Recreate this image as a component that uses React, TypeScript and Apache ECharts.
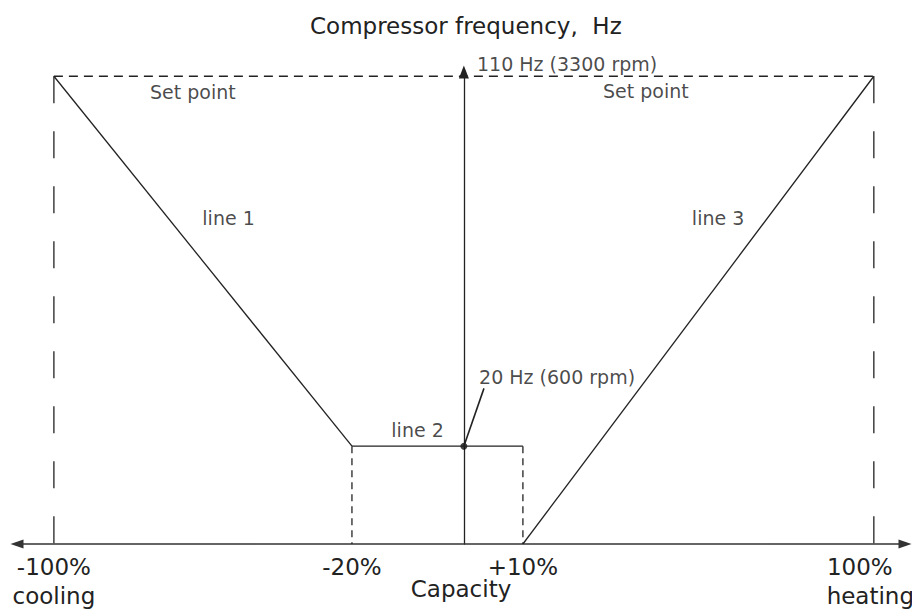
import React, { useEffect, useRef } from "react";
import * as echarts from "echarts";

// Capacity axis (schematic positions of the labelled capacity points)
const capacityTicks = [-100, -27.3, 14.4, 100];
const capacityLabels = ["-100%", "-20%", "+10%", "100%"];
const capacityModes = ["cooling", "", "", "heating"];

// Frequency levels (schematic)
const setPointLevel = 110;
const minLevel = 23;

const line1 = [[-100, 110], [-27.3, 23]];
const line2 = [[-27.3, 23], [14.4, 23]];
const line3 = [[14.4, 0], [100, 110]];
const setPointLine = [[-100, 110], [100, 110]];
const outerGuides = [
  [[-100, 110], [-100, 0]],
  [[100, 110], [100, 0]],
];
const innerGuides = [
  [[-27.3, 23], [-27.3, 0]],
  [[14.4, 23], [14.4, 0]],
];
const minPoint = [[0, 23]];
const leader = [[0, 23], [4.9, 36.6]];

const annotationTexts = ["Set point", "Set point", "line 1", "line 2", "line 3", "20 Hz (600 rpm)", "110 Hz (3300 rpm)"];
const annotationX = [-66.1, 44.4, -57.4, -11.3, 62.0, 3.7, 3.2];
const annotationY = [106.3, 106.5, 76.7, 26.8, 76.7, 39.3, 112.9];
const annotationLeft = [false, false, false, false, false, true, true];

const FONT = "'DejaVu Sans', Verdana, sans-serif";
const INK = "#222";

export default function App() {
  const ref = useRef<HTMLDivElement>(null);

  useEffect(() => {
    if (!ref.current) return;
    const chart = echarts.init(ref.current, undefined, { renderer: "svg" });

    const solid = (data: number[][]) => ({
      type: "line",
      data,
      symbol: "none",
      silent: true,
      lineStyle: { color: INK, width: 1.3, type: "solid" },
    });
    const dashed = (data: number[][], dash: number[]) => ({
      type: "line",
      data,
      symbol: "none",
      silent: true,
      lineStyle: { color: INK, width: 1.3, type: dash },
    });

    const labelData = annotationTexts.map((t, i) => ({
      value: [annotationX[i], annotationY[i]],
      label: {
        show: true,
        formatter: t,
        position: annotationLeft[i] ? "right" : "inside",
        distance: 0,
        color: "#1a1a1a",
        textBorderWidth: 0,
        fontFamily: FONT,
        fontSize: 19,
      },
    }));

    const option: any = {
      animation: false,
      title: {
        text: "Compressor frequency,  Hz",
        left: 305,
        top: 9,
        textStyle: { fontFamily: FONT, fontSize: 23, fontWeight: "normal", color: INK },
      },
      grid: { left: 17, right: 7, top: 72, bottom: 65, containLabel: false, outerBoundsMode: "none" },
      xAxis: {
        type: "value",
        min: -109,
        max: 107.6,
        name: "Capacity",
        nameLocation: "middle",
        nameGap: 33,
        nameMoveOverlap: false,
        nameTextStyle: { fontFamily: FONT, fontSize: 23, color: INK },
        axisLine: {
          show: true,
          onZero: false,
          symbol: ["triangle", "triangle"],
          symbolSize: [9, 13],
          lineStyle: { color: "#333", width: 1.6 },
        },
        axisTick: { show: false },
        splitLine: { show: false },
        axisLabel: {
          show: true,
          customValues: capacityTicks,
          margin: 8,
          showMinLabel: true,
          showMaxLabel: true,
          hideOverlap: false,
          formatter: (v: number) => {
            let idx = 0;
            let best = Infinity;
            capacityTicks.forEach((t, i) => {
              const d = Math.abs(t - v);
              if (d < best) {
                best = d;
                idx = i;
              }
            });
            const main = capacityLabels[idx];
            const mode = capacityModes[idx];
            if (idx === capacityTicks.length - 1) {
              return `{r|${main}}\n{h|${mode}}`;
            }
            return mode ? `{a|${main}}\n{a|${mode}}` : `{a|${main}}`;
          },
          rich: {
            a: { fontFamily: FONT, fontSize: 23, color: INK, lineHeight: 29 },
            r: { fontFamily: FONT, fontSize: 23, color: INK, lineHeight: 29, padding: [0, 28, 0, 0] },
            h: { fontFamily: FONT, fontSize: 23, color: INK, lineHeight: 29, padding: [0, 7, 0, 0] },
          },
        },
      },
      yAxis: {
        type: "value",
        min: 0,
        max: 111,
        axisLine: {
          show: true,
          onZero: true,
          symbol: ["none", "triangle"],
          symbolSize: [10, 13],
          lineStyle: { color: INK, width: 1.3 },
        },
        axisTick: { show: false },
        axisLabel: { show: false },
        splitLine: { show: false },
      },
      series: [
        dashed(setPointLine, [9, 6]),
        ...outerGuides.map((g) => dashed(g, [27, 28])),
        ...innerGuides.map((g) => dashed(g, [7, 5])),
        solid(line1),
        solid(line2),
        solid(line3),
        {
          type: "line",
          data: leader,
          symbol: "none",
          silent: true,
          lineStyle: { color: INK, width: 1.6 },
        },
        {
          type: "scatter",
          data: minPoint,
          symbol: "circle",
          symbolSize: 7,
          itemStyle: { color: "#111" },
          silent: true,
        },
        {
          type: "scatter",
          data: labelData,
          symbol: "circle",
          symbolSize: 0,
          clip: false,
          silent: true,
          itemStyle: { color: "transparent" },
        },
      ],
    };

    chart.setOption(option);
    return () => chart.dispose();
  }, []);

  return <div ref={ref} style={{ width: 912, height: 609, position: "absolute", left: 0, top: 0 }} />;
}
